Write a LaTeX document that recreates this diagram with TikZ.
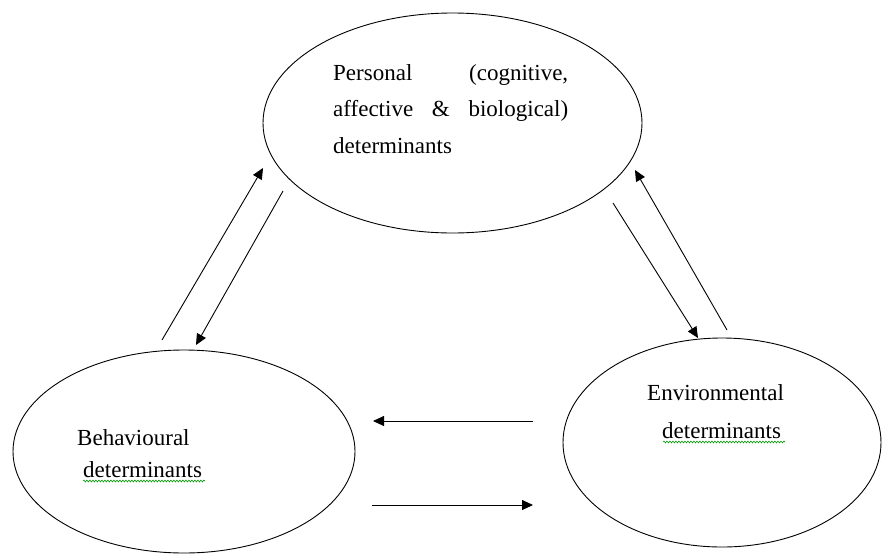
\documentclass[tikz,border=0pt]{standalone}
\usepackage{fontspec}
\setmainfont{Liberation Serif}
\usetikzlibrary{shapes.geometric,arrows.meta,decorations.pathmorphing}

\tikzset{
  det/.style={ellipse, draw, line width=0.9pt, inner sep=0pt},
  lbl/.style={align=left, inner sep=0pt, anchor=base west},
  arr/.style={line width=0.9pt, -{Triangle[length=11pt,width=10pt]}},
  squig/.style={green!60!black, line width=0.6pt, decorate,
    decoration={snake, amplitude=0.9pt, segment length=3pt}}
}

\begin{document}
\begin{tikzpicture}[x=1pt,y=-1pt]
    \useasboundingbox (0,0) rectangle (882,555);

    % the three determinants
    \node[det, minimum width=379pt, minimum height=220pt] (pers) at (452.5,123) {};
    \node[det, minimum width=342pt, minimum height=203pt] (beh) at (184,451.5) {};
    \node[det, minimum width=318pt, minimum height=209pt] (env) at (722,442.5) {};

    \node[lbl, text width=235pt, font=\fontsize{23}{36.5}\selectfont] (perslbl) at (333,80)
        {\makebox[235pt][l]{Personal\hfill(cognitive,}\\
         \makebox[235pt][l]{affective\hfill\&\hfill biological)}\\
         determinants};
    \node[lbl, font=\fontsize{23}{32}\selectfont] (behlbl) at (77,477)
        {Behavioural\\\hspace*{6pt}determinants};
    \node[lbl, font=\fontsize{23}{38}\selectfont] (envlbl) at (647,438)
        {Environmental\\\hspace*{15pt}determinants};

    % spelling marks
    \draw[squig] (83,481) -- (205,481);
    \draw[squig] (663,442) -- (785,442);

    % arrow ends
    \coordinate (pu1) at (162,340);
    \coordinate (pu2) at (263,168);
    \coordinate (pd1) at (283,191);
    \coordinate (pd2) at (196,345);
    \coordinate (ed1) at (613,203);
    \coordinate (ed2) at (698,338);
    \coordinate (eu1) at (727,330);
    \coordinate (eu2) at (635,170);
    \coordinate (bl1) at (533,421);
    \coordinate (bl2) at (373,421);
    \coordinate (br1) at (372,505);
    \coordinate (br2) at (533,505);

    \draw[arr] (pu1) -- (pu2);
    \draw[arr] (pd1) -- (pd2);
    \draw[arr] (ed1) -- (ed2);
    \draw[arr] (eu1) -- (eu2);
    \draw[arr] (bl1) -- (bl2);
    \draw[arr] (br1) -- (br2);

\end{tikzpicture}
\end{document}
